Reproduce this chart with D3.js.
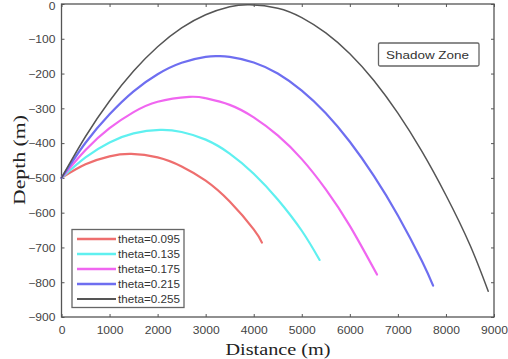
<!DOCTYPE html>
<html><head><meta charset="utf-8">
<script src="https://cdn.jsdelivr.net/npm/d3@7"></script>
<style>html,body{margin:0;padding:0;background:#fff;}svg{display:block;}</style>
</head><body>
<script>
// ---- data ----
const xTickValues = [0,1000,2000,3000,4000,5000,6000,7000,8000,9000];
const yTickValues = [0,-100,-200,-300,-400,-500,-600,-700,-800,-900];
const thetaLabels = ["theta=0.095","theta=0.135","theta=0.175","theta=0.215","theta=0.255"];

const dist095  = [0,500,1000,1450,2000,2500,3000,3500,4000,4171];
const depth095 = [-500,-461,-438,-431,-441,-467,-508,-568,-648,-686];

const dist135  = [0,500,1000,1500,2050,2500,3000,3500,4000,4500,5000,5371];
const depth135 = [-500,-441,-398,-372,-362,-368,-390,-430,-488,-562,-652,-736];

const dist175  = [0,500,1000,1500,2000,2660,3000,3500,4000,4500,5000,5500,6000,6566];
const depth175 = [-500,-420,-357,-311,-281,-267,-271,-290,-326,-378,-446,-533,-638,-778];

const dist215  = [0,500,1000,1500,2000,2500,3000,3260,3500,4000,4500,5000,5500,6000,6500,7000,7500,7733];
const depth215 = [-500,-399,-317,-251,-202,-169,-152,-150,-152,-168,-200,-249,-314,-396,-494,-608,-739,-810];

const dist255  = [0,500,1000,1500,2000,2500,3000,3500,3920,4500,5000,5500,6000,6500,7000,7500,8000,8500,8880];
const depth255 = [-500,-381,-279,-193,-123,-69,-31,-8,-2,-12,-39,-83,-143,-220,-314,-424,-550,-693,-826];

const seriesDist  = [dist095, dist135, dist175, dist215, dist255];
const seriesDepth = [depth095, depth135, depth175, depth215, depth255];
const colors = ["#ee6e6e","#5ff0f0","#f066f0","#6e6ef0","#555555"];
const widths = [2.2,2.2,2.2,2.2,1.5];

// ---- layout ----
const W = 508, H = 359;
const L = 61.5, R = 494, T = 4, B = 317;
const svg = d3.select("body").append("svg").attr("width", W).attr("height", H);

const x = d3.scaleLinear().domain([0, 9000]).range([L, R]);
const y = d3.scaleLinear().domain([-900, 0]).range([B, T]);

const axisColor = "#555";
const labelColor = "#444";
const font = "Liberation Sans, Arial, sans-serif";

const gB = svg.append("g").attr("transform", `translate(0,${B})`)
  .call(d3.axisBottom(x).tickValues(xTickValues).tickSizeInner(-3).tickSizeOuter(0).tickPadding(10).tickFormat(d3.format("d")));
const gT = svg.append("g").attr("transform", `translate(0,${T})`)
  .call(d3.axisTop(x).tickValues(xTickValues).tickSizeInner(-3).tickSizeOuter(0).tickFormat(""));
const gL = svg.append("g").attr("transform", `translate(${L},0)`)
  .call(d3.axisLeft(y).tickValues(yTickValues).tickSizeInner(-3).tickSizeOuter(0).tickPadding(6).tickFormat(d3.format("d")));
const gR = svg.append("g").attr("transform", `translate(${R},0)`)
  .call(d3.axisRight(y).tickValues(yTickValues).tickSizeInner(-3).tickSizeOuter(0).tickFormat(""));

[gB,gT,gL,gR].forEach(g => {
  g.select(".domain").remove();
  g.selectAll(".tick line").attr("stroke", axisColor).attr("stroke-width", 1);
  g.selectAll(".tick text").attr("fill", labelColor).attr("font-family", font).attr("font-size", 10.5);
});
gB.selectAll(".tick text").attr("dy", "0.71em");
gL.selectAll(".tick text").attr("dy", "0.36em");
// keep the top "0" label inside the picture
gL.selectAll(".tick text").filter(d => d === 0).attr("dy", "0.5em");
// widen tick labels slightly, like the reference
[gB, gL].forEach(g => g.selectAll(".tick text").each(function() {
  const len = this.getComputedTextLength();
  d3.select(this).attr("textLength", len * 1.15).attr("lengthAdjust", "spacingAndGlyphs");
}));

// frame
svg.append("rect").attr("x", L).attr("y", T).attr("width", R - L).attr("height", B - T)
  .attr("fill", "none").attr("stroke", axisColor).attr("stroke-width", 1.3);

// lines
const line = d3.line().x(d => x(d[0])).y(d => y(d[1])).curve(d3.curveNatural);
seriesDist.forEach((ds, i) => {
  const pts = ds.map((d, j) => [d, seriesDepth[i][j]]);
  svg.append("path").datum(pts).attr("d", line)
    .attr("fill", "none").attr("stroke", colors[i]).attr("stroke-width", widths[i])
    .attr("stroke-linecap", "round");
});

// legend
const leg = svg.append("g");
leg.append("rect").attr("x", 72).attr("y", 229.5).attr("width", 112).attr("height", 78)
  .attr("fill", "#fff").attr("stroke", "#666").attr("stroke-width", 1.3);
thetaLabels.forEach((t, i) => {
  const yy = 239 + i * 15;
  leg.append("line").attr("x1", 77).attr("x2", 116).attr("y1", yy).attr("y2", yy)
    .attr("stroke", colors[i]).attr("stroke-width", widths[i] + 0.3);
  leg.append("text").attr("x", 118).attr("y", yy).attr("dy", "0.35em")
    .attr("font-family", font).attr("font-size", 10).attr("fill", "#333")
    .attr("textLength", 62).attr("lengthAdjust", "spacingAndGlyphs").text(t);
});

// Shadow Zone annotation
svg.append("rect").attr("x", 378.5).attr("y", 43).attr("width", 100.5).attr("height", 23).attr("rx", 1.5)
  .attr("fill", "#fff").attr("stroke", "#666").attr("stroke-width", 1.3);
svg.append("text").attr("x", 386).attr("y", 55.5).attr("dy", "0.35em")
  .attr("font-family", font).attr("font-size", 11).attr("fill", "#333")
  .attr("textLength", 83).attr("lengthAdjust", "spacingAndGlyphs").text("Shadow Zone");

// axis titles
svg.append("text").attr("x", 278).attr("y", 355).attr("text-anchor", "middle")
  .attr("font-family", "Liberation Serif, Times New Roman, serif").attr("font-size", 16).attr("fill", "#222")
  .attr("textLength", 105).attr("lengthAdjust", "spacingAndGlyphs").text("Distance (m)");
svg.append("text").attr("transform", "translate(25,160) rotate(-90)").attr("text-anchor", "middle")
  .attr("font-family", "Liberation Serif, Times New Roman, serif").attr("font-size", 16).attr("fill", "#222")
  .attr("textLength", 90).attr("lengthAdjust", "spacingAndGlyphs").text("Depth (m)");
</script>
</body></html>
